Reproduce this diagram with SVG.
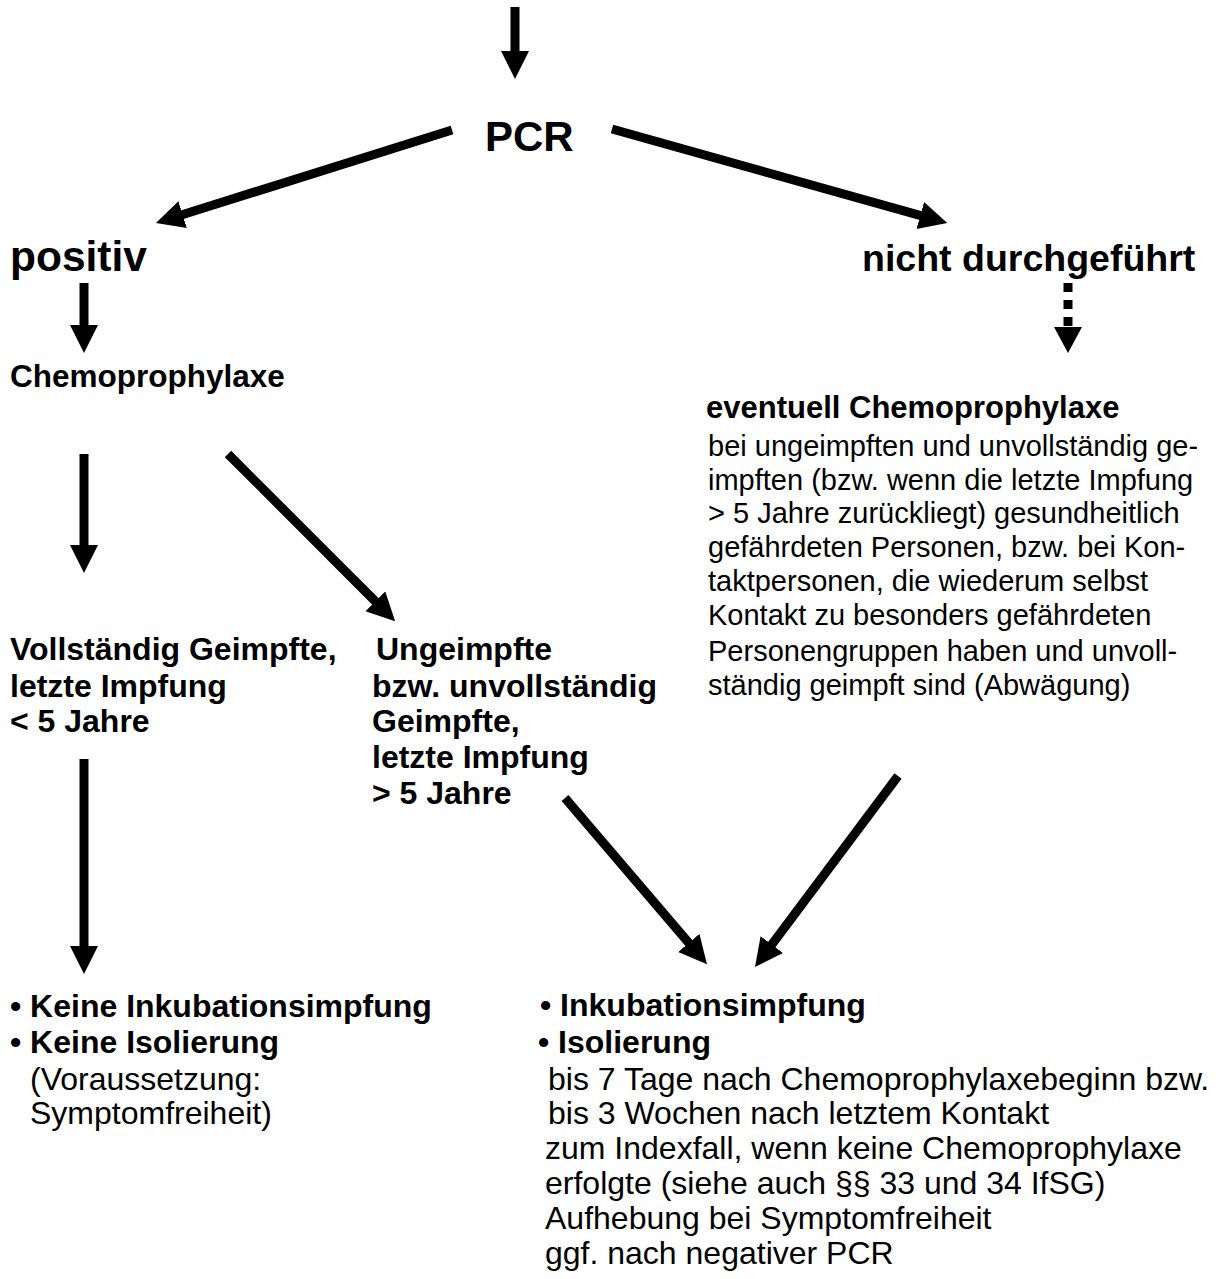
<svg xmlns="http://www.w3.org/2000/svg" width="1224" height="1279" viewBox="0 0 1224 1279">
<style>
.b{font-family:"Liberation Sans",Arial,sans-serif;font-weight:bold;fill:#000}
.r{font-family:"Liberation Sans",Arial,sans-serif;fill:#000}
.c{stroke:#000;stroke-width:9;fill:none;marker-end:url(#ah)}
</style>
<defs>
<marker id="ah" markerUnits="userSpaceOnUse" markerWidth="32" markerHeight="30" refX="8" refY="14" orient="auto">
<path d="M0,0 L28,14 L0,28 Z" fill="#000"/>
</marker>
</defs>
<rect width="1224" height="1279" fill="#fff"/>
<g id="connectors">
<line class="c" x1="515" y1="7" x2="515" y2="59"/>
<line class="c" x1="452" y1="130" x2="175" y2="217"/>
<line class="c" x1="612" y1="129" x2="928" y2="217.6"/>
<line class="c" x1="84" y1="283" x2="84" y2="333"/>
<g id="dotted">
<line x1="1068" y1="283" x2="1068" y2="327" stroke="#000" stroke-width="9" stroke-dasharray="9,8"/>
<path d="M1054,327 L1082,327 L1068,353 Z" fill="#000"/>
</g>
<line class="c" x1="84" y1="454" x2="84" y2="553"/>
<line class="c" x1="228" y1="454" x2="381" y2="607"/>
<line class="c" x1="84" y1="759" x2="84" y2="954"/>
<line class="c" x1="565" y1="798" x2="694" y2="949"/>
<line class="c" x1="898" y1="776" x2="767" y2="951"/>
</g>
<g id="pcr"><text class="b" x="485" y="151" font-size="42">PCR</text></g>
<g id="positiv"><text class="b" x="10" y="271" font-size="42.5">positiv</text></g>
<g id="nicht"><text class="b" x="862" y="271" font-size="37.5">nicht durchgeführt</text></g>
<g id="chemo"><text class="b" x="10" y="387" font-size="31.5">Chemoprophylaxe</text></g>
<g id="eventuell">
<text class="b" x="706" y="418" font-size="31">eventuell Chemoprophylaxe</text>
<g class="r" font-size="29">
<text x="708" y="456">bei ungeimpften und unvollständig ge-</text>
<text x="708" y="490">impften (bzw. wenn die letzte Impfung</text>
<text x="708" y="523">&gt; 5 Jahre zurückliegt) gesundheitlich</text>
<text x="708" y="557">gefährdeten Personen, bzw. bei Kon-</text>
<text x="708" y="591">taktpersonen, die wiederum selbst</text>
<text x="708" y="625">Kontakt zu besonders gefährdeten</text>
<text x="708" y="661">Personengruppen haben und unvoll-</text>
<text x="708" y="695">ständig geimpft sind (Abwägung)</text>
</g>
</g>
<g id="vollstaendig" class="b" font-size="32">
<text x="10" y="660">Vollständig Geimpfte,</text>
<text x="10" y="697">letzte Impfung</text>
<text x="10" y="732">&lt; 5 Jahre</text>
</g>
<g id="ungeimpfte" class="b" font-size="32">
<text x="376" y="660">Ungeimpfte</text>
<text x="372" y="697">bzw. unvollständig</text>
<text x="372" y="732">Geimpfte,</text>
<text x="372" y="768">letzte Impfung</text>
<text x="372" y="804">&gt; 5 Jahre</text>
</g>
<g id="keine">
<text class="b" x="10" y="1017" font-size="32">• Keine Inkubationsimpfung</text>
<text class="b" x="10" y="1053" font-size="32">• Keine Isolierung</text>
<text class="r" x="30" y="1090" font-size="32">(Voraussetzung:</text>
<text class="r" x="30" y="1124" font-size="32">Symptomfreiheit)</text>
</g>
<g id="inkubation">
<text class="b" x="540" y="1016" font-size="32">• Inkubationsimpfung</text>
<text class="b" x="538" y="1053" font-size="32">• Isolierung</text>
<g class="r" font-size="32">
<text x="548" y="1090">bis 7 Tage nach Chemoprophylaxebeginn bzw.</text>
<text x="548" y="1124">bis 3 Wochen nach letztem Kontakt</text>
<text x="545" y="1159">zum Indexfall, wenn keine Chemoprophylaxe</text>
<text x="545" y="1194">erfolgte (siehe auch §§ 33 und 34 IfSG)</text>
<text x="545" y="1229">Aufhebung bei Symptomfreiheit</text>
<text x="545" y="1264">ggf. nach negativer PCR</text>
</g>
</g>
</svg>
